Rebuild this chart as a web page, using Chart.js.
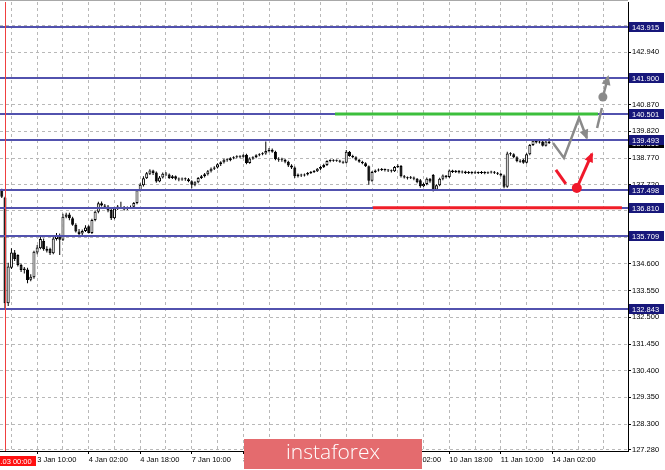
<!DOCTYPE html>
<html>
<head>
<meta charset="utf-8">
<script src="https://cdn.jsdelivr.net/npm/chart.js@4.4.1/dist/chart.umd.min.js"></script>
<style>
  html, body { margin: 0; padding: 0; background: #fff; }
  #wrap { width: 665px; height: 470px; }
</style>
</head>
<body>
<div id="wrap"><canvas id="c" width="665" height="470"></canvas></div>
<script>
// H1 candles, bar 0 = 2 Jan 23:00, bar 1 = 3 Jan 00:00 ...
const opens = [
  137.50,137.22,133.05,134.45,135.05,134.95,134.56,134.36,134.38,133.98,
  134.08,135.05,135.22,135.50,135.20,135.20,135.02,135.58,135.72,135.55,
  136.46,136.55,136.40,136.14,135.88,135.80,135.90,136.08,135.82,136.33,
  136.66,136.99,136.90,136.86,136.72,136.40,136.78,136.84,136.80,136.76,
  136.80,136.85,137.00,137.50,137.70,137.97,138.15,138.28,138.20,137.85,
  138.00,138.15,138.12,137.98,138.05,137.95,137.92,137.96,137.93,137.86,
  137.72,137.82,137.98,138.05,138.13,138.25,138.35,138.40,138.52,138.60,
  138.70,138.68,138.76,138.80,138.83,138.82,138.90,138.57,138.75,138.80,
  138.88,138.92,138.95,139.05,139.10,139.02,138.72,138.70,138.70,138.62,
  138.48,138.40,138.05,138.12,138.08,138.12,138.18,138.22,138.25,138.35,
  138.42,138.50,138.65,138.68,138.66,138.67,138.62,138.58,139.02,138.85,
  138.80,138.70,138.62,138.56,138.45,137.88,138.22,138.28,138.30,138.32,
  138.30,138.28,138.25,138.42,138.46,138.05,138.00,137.97,138.00,137.95,
  137.90,137.66,137.75,137.95,138.10,137.52,137.70,137.95,138.08,138.02,
  138.28,138.22,138.27,138.20,138.24,138.18,138.22,138.17,138.21,138.18,
  138.22,138.17,138.20,138.23,138.19,138.15,138.08,137.64,138.95,138.92,
  138.80,138.65,138.70,138.58,138.92,139.28,139.45,139.38,139.42,139.25,
  139.42
];
const highs = [
  137.56,137.25,134.65,135.22,135.15,134.98,134.62,134.48,134.45,134.20,
  135.12,135.35,135.68,135.60,135.30,135.24,135.66,135.82,135.80,136.58,
  136.62,136.62,136.46,136.20,135.98,135.96,136.12,136.12,136.38,136.70,
  137.05,137.06,136.96,136.92,136.76,136.82,136.92,137.05,136.88,136.86,
  136.90,137.04,137.55,137.78,138.05,138.22,138.33,138.31,138.24,138.06,
  138.20,138.22,138.16,138.10,138.08,138.00,138.00,138.00,137.98,137.90,
  137.86,138.02,138.10,138.18,138.30,138.40,138.45,138.56,138.64,138.74,
  138.76,138.80,138.84,138.88,138.88,138.92,138.94,138.80,138.84,138.92,
  138.96,139.00,139.42,139.16,139.14,139.06,138.80,138.78,138.74,138.66,
  138.52,138.44,138.16,138.15,138.16,138.22,138.26,138.30,138.38,138.46,
  138.54,138.68,138.72,138.72,138.71,138.70,138.66,139.09,139.05,138.90,
  138.84,138.74,138.66,138.60,138.48,138.26,138.32,138.36,138.38,138.36,
  138.34,138.32,138.46,138.52,138.50,138.10,138.04,138.06,138.04,137.98,
  137.94,137.80,138.00,137.98,138.14,137.74,137.99,138.12,138.10,138.32,
  138.31,138.30,138.30,138.28,138.27,138.26,138.25,138.25,138.24,138.26,
  138.25,138.24,138.27,138.26,138.22,138.18,138.12,139.02,139.00,138.96,
  138.84,138.72,138.74,138.96,139.32,139.50,139.48,139.46,139.45,139.46,
  139.55
];
const lows = [
  137.20,132.82,132.95,134.40,134.72,134.50,134.28,134.23,133.84,133.92,
  134.02,134.98,135.18,135.12,135.05,134.95,134.98,135.52,134.95,135.50,
  136.40,136.32,136.10,135.84,135.68,135.72,135.86,135.80,135.78,136.28,
  136.60,136.86,136.80,136.64,136.33,136.36,136.72,136.76,136.70,136.72,
  136.76,136.80,136.95,137.45,137.65,137.94,138.10,138.10,137.80,137.82,
  137.96,138.06,137.94,137.94,137.90,137.86,137.88,137.88,137.82,137.58,
  137.66,137.78,137.94,138.00,138.08,138.20,138.30,138.36,138.46,138.55,
  138.62,138.64,138.72,138.76,138.76,138.78,138.52,138.54,138.70,138.76,
  138.84,138.88,138.90,139.00,138.98,138.68,138.62,138.62,138.56,138.42,
  138.34,137.98,138.00,138.02,138.04,138.08,138.14,138.18,138.22,138.30,
  138.38,138.46,138.60,138.62,138.62,138.58,138.54,138.55,138.82,138.76,
  138.66,138.58,138.52,138.42,137.72,137.84,138.18,138.24,138.26,138.24,
  138.22,138.20,138.22,138.38,138.00,137.96,137.92,137.94,137.90,137.78,
  137.60,137.62,137.70,137.80,137.45,137.48,137.66,137.90,137.96,137.98,
  138.18,138.18,138.16,138.16,138.14,138.14,138.13,138.14,138.14,138.14,
  138.13,138.14,138.16,138.14,138.10,138.04,137.58,137.60,138.86,138.76,
  138.60,138.58,138.54,138.55,138.88,139.24,139.34,139.34,139.22,139.22,
  139.32
];
const closes = [
  137.25,133.05,134.50,135.05,134.80,134.56,134.36,134.42,133.97,134.10,
  135.08,135.25,135.58,135.18,135.12,135.02,135.60,135.74,135.55,136.46,
  136.55,136.40,136.14,135.88,135.78,135.90,136.04,135.82,136.33,136.66,
  136.99,136.90,136.85,136.70,136.40,136.78,136.86,136.80,136.74,136.80,
  136.84,137.00,137.50,137.72,137.97,138.17,138.28,138.18,137.85,138.00,
  138.15,138.12,137.98,138.05,137.95,137.92,137.96,137.93,137.86,137.72,
  137.82,137.98,138.05,138.13,138.25,138.35,138.40,138.52,138.60,138.70,
  138.68,138.76,138.80,138.83,138.82,138.88,138.57,138.75,138.80,138.88,
  138.92,138.95,139.05,139.10,139.02,138.72,138.70,138.70,138.62,138.48,
  138.40,138.05,138.12,138.08,138.12,138.18,138.22,138.25,138.35,138.42,
  138.50,138.65,138.68,138.66,138.67,138.62,138.58,139.02,138.85,138.80,
  138.70,138.62,138.56,138.45,137.88,138.22,138.28,138.30,138.32,138.30,
  138.28,138.25,138.42,138.46,138.05,138.00,137.97,138.00,137.95,137.82,
  137.66,137.75,137.95,137.85,137.52,137.70,137.95,138.08,138.02,138.28,
  138.22,138.27,138.20,138.24,138.18,138.22,138.17,138.21,138.18,138.22,
  138.17,138.20,138.23,138.19,138.15,138.08,137.64,138.95,138.92,138.80,
  138.65,138.62,138.58,138.92,139.28,139.45,139.38,139.42,139.25,139.42,
  139.36
];

const xTickIdx = [11, 27, 43, 59, 75, 91, 107, 123, 139, 155, 171];
const xTickLabels = ['3 Jan 10:00', '4 Jan 02:00', '4 Jan 18:00', '7 Jan 10:00', '8 Jan 02:00',
  '8 Jan 18:00', '9 Jan 10:00', '10 Jan 02:00', '10 Jan 18:00', '11 Jan 10:00', '14 Jan 02:00'];
const yTicks = [127.28, 128.30, 129.35, 130.40, 131.45, 132.50, 133.55, 134.60, 135.65,
  136.70, 137.72, 138.77, 139.82, 140.87, 141.92, 142.94, 143.99];

// horizontal levels with price tags
const levels = [143.915, 141.900, 140.501, 139.493, 137.498, 136.810, 135.709, 132.843];
const currentPrice = 139.36;
const greenLine = [103.5, 185.2, 140.501];   // from bar, to bar, price
const redLine = [115.3, 192.6, 136.810];
const markerBar = 1;
const markerLabel = '2019.01.03 00:00';

// forecast sketch, [bar, price]
const grayZig = [[171.2, 139.36], [174.6, 138.77], [179.3, 140.35], [181.7, 139.56]];
const grayStep = [[184.9, 139.95], [186.4, 140.74]];
const grayUp = [[186.7, 141.17], [188.3, 141.96]];
const redDown = [[172.1, 138.30], [175.2, 137.75]];
const redUp = [[178.6, 137.59], [183.3, 138.93]];

const FONT = { family: 'Liberation Sans, Arial, sans-serif', size: 7.5 };

const overlay = {
  id: 'overlay',
  afterDatasetsDraw(chart) {
    const { ctx, chartArea: a, scales: { x, y } } = chart;
    const px = p => [x.getPixelForValue(p[0]), y.getPixelForValue(p[1])];
    ctx.save();
    ctx.strokeStyle = '#a8a8a8'; ctx.lineWidth = 1;
    ctx.beginPath(); ctx.moveTo(0, 0.5); ctx.lineTo(a.right, 0.5); ctx.stroke();

    ctx.lineWidth = 2; ctx.strokeStyle = '#5252ae';
    levels.forEach(v => {
      const py = Math.round(y.getPixelForValue(v));
      ctx.beginPath(); ctx.moveTo(a.left, py); ctx.lineTo(a.right, py); ctx.stroke();
    });
    ctx.lineWidth = 3;
    [[greenLine, '#3cbf3c'], [redLine, '#f01e28']].forEach(([l, c]) => {
      const py = y.getPixelForValue(l[2]);
      ctx.strokeStyle = c;
      ctx.beginPath(); ctx.moveTo(x.getPixelForValue(l[0]), py); ctx.lineTo(x.getPixelForValue(l[1]), py); ctx.stroke();
    });
    const mx = Math.round(x.getPixelForValue(markerBar)) + 0.5;
    ctx.strokeStyle = '#f04040'; ctx.lineWidth = 1;
    ctx.beginPath(); ctx.moveTo(mx, a.top); ctx.lineTo(mx, a.bottom); ctx.stroke();

    const path = (pts, color, w, head) => {
      ctx.strokeStyle = color; ctx.fillStyle = color; ctx.lineWidth = w;
      const q = pts.map(px);
      ctx.beginPath(); ctx.moveTo(q[0][0], q[0][1]);
      for (let i = 1; i < q.length; i++) ctx.lineTo(q[i][0], q[i][1]);
      ctx.stroke();
      if (head) {
        const [x1, y1] = q[q.length - 2], [x2, y2] = q[q.length - 1];
        ctx.save(); ctx.translate(x2, y2); ctx.rotate(Math.atan2(y2 - y1, x2 - x1));
        ctx.beginPath(); ctx.moveTo(2, 0); ctx.lineTo(-8, -4.5); ctx.lineTo(-8, 4.5); ctx.closePath(); ctx.fill();
        ctx.restore();
      }
    };
    const dot = (p, color, r) => {
      const [cx, cy] = px(p);
      ctx.fillStyle = color; ctx.beginPath(); ctx.arc(cx, cy, r, 0, Math.PI * 2); ctx.fill();
    };
    path(grayZig, '#8a8a8a', 2.5, true);
    path(grayStep, '#8a8a8a', 2.5, false);
    path(grayUp, '#8a8a8a', 2.5, true);
    dot(grayUp[0], '#8a8a8a', 4.5);
    path(redDown, '#f0182a', 3, false);
    path(redUp, '#f0182a', 3, true);
    dot(redUp[0], '#f0182a', 5);
    ctx.restore();
  },
  afterDraw(chart) {
    const { ctx, chartArea: a, scales: { x, y } } = chart;
    ctx.save();
    ctx.font = FONT.size + 'px ' + FONT.family;
    ctx.textBaseline = 'middle';
    const tag = (v, bg) => {
      const py = Math.round(y.getPixelForValue(v));
      ctx.fillStyle = bg; ctx.fillRect(a.right + 1, py - 5, 35, 10);
      ctx.fillStyle = '#fff'; ctx.textAlign = 'left';
      ctx.fillText(v.toFixed(3), a.right + 4, py + 0.5);
    };
    tag(currentPrice, '#000');
    levels.forEach(v => tag(v, '#17177a'));

    const mx = x.getPixelForValue(markerBar);
    ctx.fillStyle = '#ff1010';
    ctx.fillRect(mx - 36, a.bottom + 5, 67, 10);
    ctx.fillStyle = '#fff'; ctx.textAlign = 'center';
    ctx.fillText(markerLabel, mx - 2.5, a.bottom + 10.5);

    ctx.fillStyle = '#e46b6e';
    ctx.fillRect(244, 439, 178, 30);
    ctx.fillStyle = '#fff';
    ctx.font = '300 21px "Open Sans", sans-serif';
    ctx.textAlign = 'center';
    ctx.fillText('instaforex', 333, 453);
    ctx.restore();
  }
};

const bodies = {
  data: opens.map((o, i) => ({ x: i, y: [o, closes[i]] })),
  backgroundColor: opens.map((o, i) => closes[i] >= o ? '#fff' : '#000'),
  borderColor: '#000', borderWidth: 1, borderSkipped: false,
  barThickness: 3, minBarLength: 1, grouped: false, inflateAmount: 0
};
const wicks = {
  data: lows.map((l, i) => ({ x: i, y: [l, highs[i]] })),
  backgroundColor: '#000', borderWidth: 0,
  barThickness: 1, grouped: false, inflateAmount: 0
};

new Chart(document.getElementById('c'), {
  type: 'bar',
  data: { datasets: [bodies, wicks] },
  options: {
    responsive: false,
    animation: false,
    layout: { padding: { top: 2, left: 0, right: 0, bottom: 0 } },
    plugins: { legend: { display: false }, tooltip: { enabled: false } },
    scales: {
      x: {
        type: 'linear', min: -0.55, max: 194.5, offset: false,
        afterBuildTicks: s => {
          const t = [];
          for (let v = 3; v <= s.max; v += 8) t.push({ value: v });
          s.ticks = t;
        },
        afterFit: s => { s.height = 19; },
        ticks: {
          autoSkip: false, maxRotation: 0, align: 'start', padding: 1,
          font: FONT, color: '#000',
          callback: v => { const k = xTickIdx.indexOf(v); return k < 0 ? '' : xTickLabels[k]; }
        },
        grid: {
          color: '#b8b8b8', offset: false, tickLength: 3,
          tickColor: c => (c.tick && xTickIdx.includes(c.tick.value)) ? '#000' : 'rgba(0,0,0,0)'
        },
        border: { color: '#000', width: 1, dash: [3, 3] }
      },
      y: {
        type: 'linear', position: 'right', min: 127.24, max: 144.91,
        afterBuildTicks: s => { s.ticks = yTicks.map(v => ({ value: v })); },
        afterFit: s => { s.width = 37; s.paddingTop = 0; s.paddingBottom = 0; },
        ticks: { padding: 1, font: FONT, color: '#000', callback: v => v.toFixed(3) },
        grid: { color: '#b8b8b8', tickLength: 3, tickColor: '#000' },
        border: { color: '#000', width: 1, dash: [3, 3] }
      }
    }
  },
  plugins: [overlay]
});
</script>
</body>
</html>
